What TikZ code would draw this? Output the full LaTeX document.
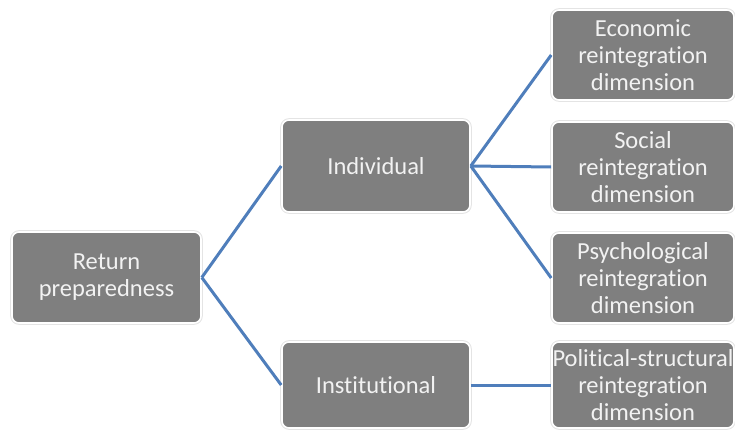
\documentclass[tikz,border=0pt]{standalone}
\usepackage{fontspec}
\setmainfont[Ligatures=NoCommon]{Carlito}
\definecolor{boxgray}{HTML}{7F7F7F}
\definecolor{txtwhite}{HTML}{F2F2F2}
\definecolor{linkblue}{HTML}{4F7EBB}
\definecolor{ringgray}{HTML}{E4E4E4}
\begin{document}
\begin{tikzpicture}[x=1pt,y=-1pt,
  box/.style={rectangle, rounded corners=7pt, fill=boxgray, draw=white, line width=1.6pt,
    preaction={draw=ringgray, line width=3.6pt},
    text=txtwhite, align=center, inner sep=0pt,
    font=\fontsize{24.5}{27}\selectfont},
  link/.style={draw=linkblue, line width=3pt}]
\useasboundingbox (0,0) rectangle (735,433);
\node[box, minimum width=189pt, minimum height=91pt] (ret) at (106.5,277.5) {Return\\preparedness};
\node[box, minimum width=188pt, minimum height=92pt] (ind) at (376,166) {Individual};
\node[box, minimum width=188pt, minimum height=86pt] (ins) at (376,385) {Institutional};
\node[box, minimum width=182pt, minimum height=90pt] (eco) at (643,55) {Economic\\reintegration\\dimension};
\node[box, minimum width=182pt, minimum height=90pt] (soc) at (643,167) {Social\\reintegration\\dimension};
\node[box, minimum width=182pt, minimum height=90pt] (psy) at (643,278) {Psychological\\reintegration\\dimension};
\node[box, minimum width=182pt, minimum height=86pt] (pol) at (643,385) {Political-structural\\reintegration\\dimension};
\draw[link] (ret.east) -- (ind.west);
\draw[link] (ret.east) -- (ins.west);
\draw[link] (ind.east) -- (eco.west);
\draw[link] (ind.east) -- (soc.west);
\draw[link] (ind.east) -- (psy.west);
\draw[link] (ins.east) -- (pol.west);
\end{tikzpicture}
\end{document}
